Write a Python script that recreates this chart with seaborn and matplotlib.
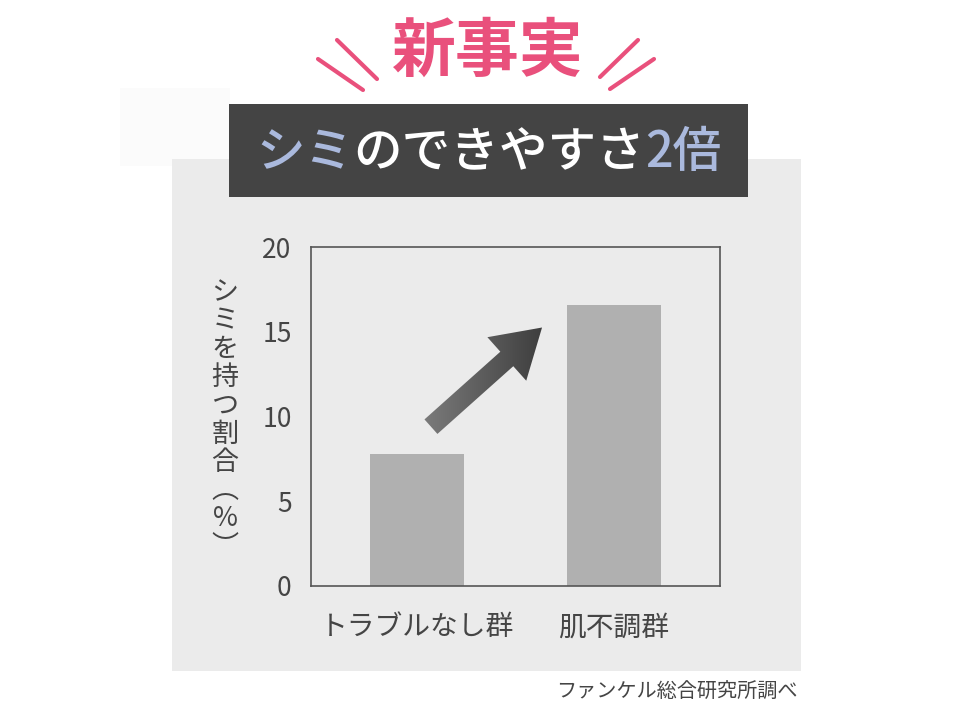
import numpy as np
import matplotlib
matplotlib.use("Agg")
import matplotlib.pyplot as plt
import seaborn as sns
from matplotlib.patches import Rectangle, FancyArrowPatch, ArrowStyle
from matplotlib.colors import LinearSegmentedColormap

# --- données ---
groupes = ["トラブルなし群", "肌不調群"]
valeurs = [7.8, 16.6]
yticks = [0, 5, 10, 15, 20]
ylabel = "シミを持つ割合︵%︶"
titre = "新事実"
bandeau = ["シミ", "のできやすさ", "2倍"]
source = "ファンケル総合研究所調べ"

# --- couleurs ---
ROSE = "#e9507c"
BLEU = "#aab9dd"
GRIS_FOND = "#ebebeb"
GRIS_BARRE = "#b0b0b0"
TEXTE = "#454545"

sns.set_style("white")
plt.rcParams['font.family'] = ['Noto Sans CJK JP', 'DejaVu Sans']

fig = plt.figure(figsize=(9.6, 7.2), dpi=100)

# calque de fond en pixels
bg = fig.add_axes([0, 0, 1, 1], zorder=-1)
bg.set_xlim(0, 960)
bg.set_ylim(720, 0)
bg.axis("off")

bg.add_patch(Rectangle((120, 88), 110, 78, color="#fbfbfb", lw=0))
bg.add_patch(Rectangle((172, 159), 629, 512, color=GRIS_FOND, lw=0))
bg.add_patch(Rectangle((229, 104), 519, 93, color="#444444", lw=0))

# titre rose + traits
bg.text(488, 52, titre, color=ROSE, fontsize=46, fontweight="bold", ha="center", va="center")
for (x0, y0, x1, y1) in [(337, 40, 377, 79), (318, 59, 363, 90),
                         (638, 40, 600, 77), (654, 59, 610, 89)]:
    bg.plot([x0, x1], [y0, y1], color=ROSE, lw=3, solid_capstyle="round")

# texte du bandeau en trois morceaux
t1 = bg.text(256, 153, bandeau[0], color=BLEU, fontsize=35, ha="left", va="center", fontweight="medium")
t2 = bg.annotate(bandeau[1], xy=(1, 0.5), xycoords=t1, color="white", fontsize=35,
                 ha="left", va="center", fontweight="medium")
t3 = bg.annotate(bandeau[2], xy=(1, 0.5), xycoords=t2, color=BLEU, fontsize=35,
                 ha="left", va="center", fontweight="medium")

bg.text(798, 692, source, color=TEXTE, fontsize=14.5, ha="right", va="center")

# --- graphique ---
ax = fig.add_axes([311 / 960, 1 - 586 / 720, 409 / 960, 339 / 720])
ax.set_facecolor(GRIS_FOND)
sns.barplot(x=groupes, y=valeurs, color=GRIS_BARRE, saturation=1, width=0.48, ax=ax,
            zorder=2, edgecolor="none", linewidth=0)

# flèche en dégradé
fleche = FancyArrowPatch((0.07, 9.4), (0.635, 15.25),
                         arrowstyle=ArrowStyle.Simple(head_length=34, head_width=42, tail_width=14),
                         mutation_scale=1, shrinkA=0, shrinkB=0, fc="none", ec="none", zorder=3)
ax.add_patch(fleche)
grad = np.linspace(0, 1, 256).reshape(1, -1)
cmap = LinearSegmentedColormap.from_list("g", ["#7e7e7e", "#383838"])
im = ax.imshow(grad, extent=[0.0, 0.7, 8.5, 16.0], cmap=cmap, aspect="auto", origin="lower", zorder=3)
im.set_clip_path(fleche)

ax.set_xlim(-0.54, 1.54)
ax.set_ylim(0, 20)
ax.set_yticks(yticks)
ax.set_xlabel("")
ax.set_ylabel("")
ax.tick_params(axis="both", length=0, colors=TEXTE)
ax.tick_params(axis="y", labelsize=19, pad=14)
ax.tick_params(axis="x", labelsize=20, pad=19)
for s in ax.spines.values():
    s.set_visible(True)
    s.set_color("#555555")
    s.set_linewidth(1.2)

# libellé vertical (écriture verticale)
bg.text(225, 420, "\n".join(ylabel), color=TEXTE, fontsize=19.5, ha="center", va="center", linespacing=1.06)

fig.savefig("out.png", dpi=100, facecolor="white")
